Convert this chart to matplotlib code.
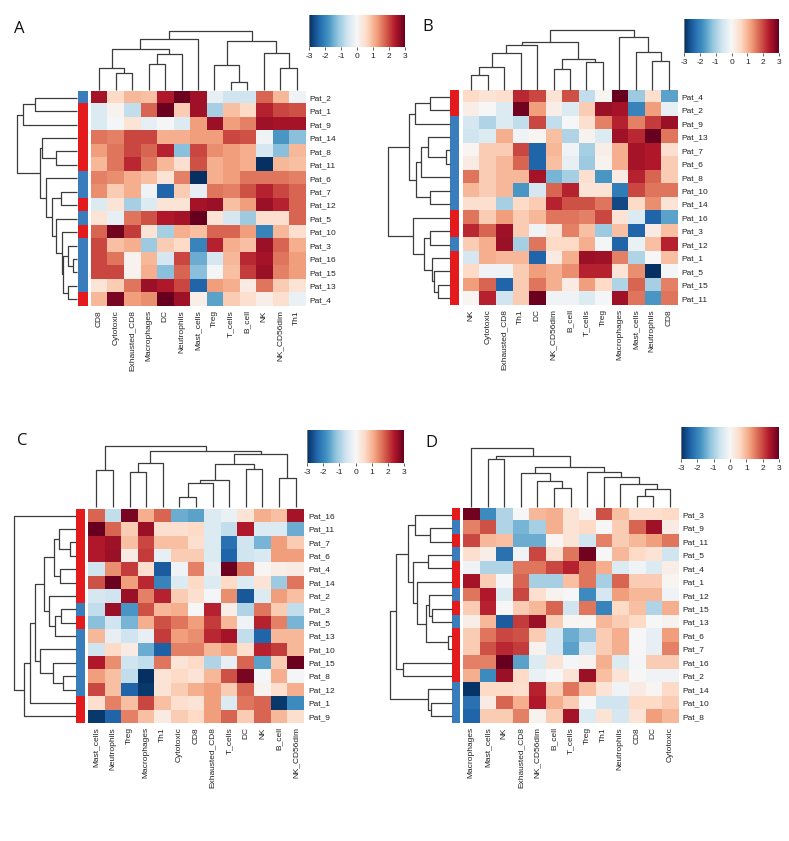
import numpy as np
import matplotlib
matplotlib.use('Agg')
import matplotlib.pyplot as plt
from matplotlib.colors import ListedColormap

plt.rcParams['font.family'] = ['Liberation Sans', 'DejaVu Sans']

# ---------------- data ----------------
cols_A = ["CD8", "Cytotoxic", "Exhausted_CD8", "Macrophages", "DC", "Neutrophils", "Mast_cells",
          "Treg", "T_cells", "B_cell", "NK", "NK_CD56dim", "Th1"]
rows_A = ["Pat_2", "Pat_1", "Pat_9", "Pat_14", "Pat_8", "Pat_11", "Pat_6", "Pat_7", "Pat_12",
          "Pat_5", "Pat_10", "Pat_3", "Pat_16", "Pat_15", "Pat_13", "Pat_4"]
groups_A = ["B", "R", "R", "R", "R", "R", "B", "B", "R", "B", "R", "B", "B", "B", "B", "R"]
vals_A = [
    [2.5, 0.6, 1.0, 0.9, 2.4, 2.95, 2.55, -0.25, -0.6, -0.6, 1.75, 1.0, -0.1],
    [-0.4, 0.1, -0.75, 1.75, 2.95, 0.75, 2.55, -1.0, 0.9, 0.6, 2.3, 2.0, 1.9],
    [-0.4, -0.05, 0.4, -0.25, -0.05, -0.4, 1.25, 2.6, 1.25, 1.5, 2.55, 2.5, 2.5],
    [1.6, 1.5, 2.0, 2.0, 1.1, 1.1, 1.25, 1.25, 2.0, 1.9, -0.1, -1.75, -1.25],
    [1.25, 1.6, 2.0, 1.75, 2.3, -1.25, 2.0, 1.4, 1.25, 1.1, -0.5, -1.25, 1.0],
    [1.0, 1.6, 2.25, 1.6, 1.0, 0.5, 1.9, 1.1, 1.25, 1.1, -3.0, 1.0, 0.9],
    [1.5, 1.4, 1.1, 0.9, 0.4, 1.5, -3.0, 1.1, 1.25, 1.6, 1.6, 1.6, 1.5],
    [1.4, 0.75, 1.1, -0.1, -2.4, 0.75, -0.25, 1.6, 1.5, 1.9, 2.3, 2.0, 1.75],
    [-0.4, 0.4, -1.0, -0.4, 0.4, 0.4, 2.5, 2.6, 0.9, 1.25, 2.6, 2.3, 1.75],
    [0.4, -0.25, 1.6, 1.9, 2.4, 2.5, 3.0, 0.4, -0.5, -1.1, 0.5, 0.5, 1.75],
    [1.75, 2.9, 2.1, 0.4, -1.0, 1.1, 0.9, 1.75, 1.75, 1.25, -2.0, 1.0, 0.5],
    [2.0, 0.9, 1.1, -1.1, 0.75, 0.6, -2.0, 2.3, 1.1, 0.9, 2.6, 1.75, 1.1],
    [2.0, 1.6, 0.1, 1.0, -0.5, 2.0, -1.5, -0.5, 1.0, 2.25, 2.5, 1.6, 1.25],
    [2.0, 2.0, 0.1, 1.1, -1.25, 1.75, -1.25, -0.05, 0.9, 2.1, 2.6, 1.5, 1.25],
    [0.4, 0.75, 1.6, 2.6, 2.4, 2.0, -2.4, 1.25, 1.1, 0.25, 1.6, 0.75, 0.4],
    [1.0, 2.85, 1.25, 1.4, 3.0, 2.55, 0.2, -1.6, 0.75, 0.5, 0.2, 0.5, -0.2],
]
col_tree_A = [(1, 2, 50), (0, 13, 65), (3, 4, 77), (15, 5, 107), (14, 16, 122), (17, 6, 153),
              (8, 9, 23), (7, 19, 75), (11, 12, 65), (10, 21, 110), (20, 22, 148), (18, 23, 178)]
row_tree_A = [(0, 1, 128), (16, 2, 167), (4, 5, 65), (3, 18, 107), (12, 13, 13), (11, 20, 30),
              (14, 15, 30), (21, 22, 45), (10, 23, 47), (9, 24, 65), (7, 8, 50), (26, 25, 77),
              (6, 27, 97), (19, 28, 115), (17, 29, 185)]

cols_B = ["NK", "Cytotoxic", "Exhausted_CD8", "Th1", "DC", "NK_CD56dim", "B_cell", "T_cells",
          "Treg", "Macrophages", "Mast_cells", "Neutrophils", "CD8"]
rows_B = ["Pat_4", "Pat_2", "Pat_9", "Pat_13", "Pat_7", "Pat_6", "Pat_8", "Pat_10", "Pat_14",
          "Pat_16", "Pat_3", "Pat_12", "Pat_1", "Pat_5", "Pat_15", "Pat_11"]
groups_B = ["R", "R", "B", "B", "B", "B", "B", "B", "B", "R", "R", "B", "R", "R", "R", "R"]
vals_B = [
    [0.6, 0.4, 0.5, 2.25, 2.0, 0.4, 1.9, -0.75, 0.05, 3.0, -1.1, 0.5, -1.6],
    [0.2, 0.0, -0.4, 2.9, 1.25, 0.2, -0.4, 0.75, 2.6, 2.5, -2.0, 1.25, -0.25],
    [-0.5, -0.9, -0.4, -0.75, 2.0, -0.75, 0.0, 0.5, 1.5, 2.3, 1.5, 2.1, 2.6],
    [-0.6, -0.4, 1.1, -0.1, 0.05, 0.9, -0.9, 0.1, -0.4, 2.55, 2.25, 3.0, 1.6],
    [0.05, 0.75, 0.75, 2.0, -2.4, 1.0, -0.1, -1.0, 0.2, 1.1, 2.5, 2.4, 0.5],
    [0.25, 0.75, 1.0, 1.75, -2.4, 0.9, -0.25, -1.1, 0.1, 1.1, 2.5, 2.4, 0.75],
    [1.6, 0.75, 1.0, 1.0, 2.5, -1.4, -1.0, 0.5, -1.75, 0.25, 2.3, 1.75, 0.75],
    [1.0, 0.75, 1.0, -1.75, -0.5, 1.75, 2.3, 0.4, 0.4, -2.1, 2.0, 1.6, 1.6],
    [0.5, 0.5, -1.0, 0.6, 0.75, 2.3, 1.9, 1.9, 1.6, -2.7, 0.6, 1.4, 0.4],
    [1.6, 0.75, 1.25, 0.75, 1.0, 1.6, 1.6, 1.5, 2.0, 0.4, -0.4, -2.4, -1.6],
    [2.25, 1.75, 2.55, 0.75, -0.1, 0.4, 1.5, 0.9, -1.1, 0.9, -2.4, 0.25, 0.9],
    [0.75, 1.1, 2.6, -1.0, 1.6, 0.6, 0.6, 1.1, -0.05, -2.4, -0.2, 0.9, 2.3],
    [-0.5, 1.1, 1.0, 1.0, -2.4, 0.25, 1.1, 2.6, 2.55, 1.5, -0.9, 0.0, 0.9],
    [0.6, -0.1, -0.1, 0.75, 1.25, 1.1, 1.4, 2.3, 2.3, 0.4, 1.4, -3.0, -0.05],
    [1.25, 1.75, -2.4, 0.75, 1.6, 1.1, 0.25, 1.25, 0.6, -0.9, 1.75, -1.0, 1.5],
    [0.05, 2.3, -0.6, 0.75, 2.95, -0.1, -0.1, -0.4, -0.05, 2.55, 1.6, -1.75, 1.6],
]
col_tree_B = [(0, 1, 45), (13, 2, 70), (14, 3, 110), (15, 4, 135), (5, 6, 63), (7, 8, 85),
              (17, 18, 93), (16, 19, 145), (11, 12, 87), (10, 21, 113), (9, 22, 158), (20, 23, 180)]
row_tree_B = [(0, 1, 59), (16, 2, 104), (4, 5, 9), (3, 18, 64), (19, 6, 84), (7, 8, 59),
              (20, 21, 99), (17, 22, 119), (14, 15, 34), (13, 24, 47), (12, 25, 52), (10, 11, 59),
              (27, 26, 77), (9, 28, 110), (23, 29, 182)]

cols_C = ["Mast_cells", "Neutrophils", "Treg", "Macrophages", "Th1", "Cytotoxic", "CD8",
          "Exhausted_CD8", "T_cells", "DC", "NK", "B_cell", "NK_CD56dim"]
rows_C = ["Pat_16", "Pat_11", "Pat_7", "Pat_6", "Pat_4", "Pat_14", "Pat_2", "Pat_3", "Pat_5",
          "Pat_13", "Pat_10", "Pat_15", "Pat_8", "Pat_12", "Pat_1", "Pat_9"]
groups_C = ["R", "R", "R", "R", "R", "R", "R", "B", "R", "B", "B", "B", "B", "B", "R", "R"]
vals_C = [
    [1.75, -0.75, 2.85, 1.1, 1.75, -1.5, -1.6, -0.4, -0.2, 0.4, 1.1, 0.9, 2.5],
    [3.0, 1.75, 0.75, 2.6, 0.5, 0.5, 0.6, -0.4, -0.75, 2.4, -0.4, -0.4, -1.5],
    [2.4, 2.55, 0.9, 2.0, 0.9, 0.9, 0.5, -0.4, -2.25, -0.6, -1.4, 1.25, 0.75],
    [2.4, 2.6, 0.25, 2.1, -0.25, 0.75, 0.75, -0.4, -2.4, -0.6, -0.45, 1.25, 1.25],
    [-0.6, 1.4, 2.1, 0.5, -2.5, -0.1, 1.5, -0.25, 2.95, 1.6, 0.05, 0.2, 0.25],
    [1.9, 2.95, 1.25, 2.25, -2.0, -0.4, 0.6, -0.4, 0.6, -0.4, 0.4, -1.1, 1.6],
    [-0.5, -0.6, 2.6, 1.5, 2.3, 0.75, 0.5, -0.05, 1.4, -2.55, -0.4, 1.25, 0.9],
    [-0.75, 2.6, -1.75, 1.9, 1.0, 1.1, 0.0, 2.3, 0.2, -0.9, 1.6, 0.75, -0.75],
    [-1.25, -0.6, -1.4, 1.1, 1.9, 1.6, 1.25, 2.1, 1.0, -0.1, 2.3, 1.5, -1.4],
    [1.0, -0.25, -0.6, -0.25, 2.1, 1.25, 1.4, 2.25, 2.5, -0.75, -2.4, 1.0, 1.0],
    [-0.6, 0.6, 0.25, -1.5, -2.45, 1.5, 1.5, 1.0, 1.25, 0.5, 2.3, 2.1, 1.0],
    [2.4, 1.4, -0.6, -0.75, 1.6, 0.4, 0.6, -0.9, -0.25, 1.75, -1.6, 0.75, 2.95],
    [1.25, 0.9, -0.75, -3.0, 0.4, 0.6, 0.4, 1.0, 1.9, 2.85, -0.05, 1.1, -0.05],
    [2.0, 0.9, -2.4, -2.9, 0.4, 0.75, 1.1, 1.25, 0.75, 1.75, 0.1, 0.5, 1.1],
    [0.5, 1.5, 0.9, 2.0, 0.9, 0.5, 0.4, 1.25, -0.4, 1.6, 1.75, -2.9, -1.9],
    [-2.9, -2.4, 1.5, 0.9, 0.25, 0.75, 0.6, 1.25, 1.75, 0.75, 1.75, 1.0, 0.5],
]
col_tree_C = [(0, 1, 110), (2, 3, 103), (14, 4, 130), (5, 6, 30), (16, 7, 72), (17, 8, 82),
              (9, 10, 112), (18, 19, 127), (11, 12, 88), (20, 21, 157), (15, 22, 168), (13, 23, 182)]
row_tree_C = [(2, 3, 15), (1, 16, 50), (4, 5, 45), (17, 18, 65), (7, 8, 42), (20, 9, 60),
              (6, 21, 78), (19, 22, 92), (12, 13, 37), (11, 24, 67), (10, 25, 105), (23, 26, 120),
              (27, 14, 135), (28, 15, 152), (0, 29, 182)]

cols_D = ["Macrophages", "Mast_cells", "NK", "Exhausted_CD8", "NK_CD56dim", "B_cell", "T_cells",
          "Treg", "Th1", "Neutrophils", "CD8", "DC", "Cytotoxic"]
rows_D = ["Pat_3", "Pat_9", "Pat_11", "Pat_5", "Pat_4", "Pat_1", "Pat_12", "Pat_15", "Pat_13",
          "Pat_6", "Pat_7", "Pat_16", "Pat_2", "Pat_14", "Pat_10", "Pat_8"]
groups_D = ["R", "B", "R", "B", "R", "R", "B", "R", "B", "R", "R", "R", "R", "B", "B", "B"]
vals_D = [
    [2.9, -1.9, -0.9, 0.0, 1.0, 1.1, 0.4, 0.05, 1.9, 0.9, 0.5, 0.5, 0.6],
    [1.5, 1.9, -0.9, -1.4, -1.0, 1.1, 0.4, 0.6, 0.0, 0.75, 1.75, 2.55, 0.25],
    [2.0, 1.0, 0.9, -1.5, -1.5, 0.05, 0.4, -0.6, 1.5, 0.75, 1.0, 1.25, 1.6],
    [0.5, 0.2, -2.25, -0.1, 2.0, 0.5, 1.6, 2.9, 0.0, 1.0, 0.6, 0.4, -0.6],
    [-0.1, -0.9, -0.9, 1.6, 1.6, 2.0, 2.3, 1.6, 1.1, -0.4, -0.1, -0.4, 0.2],
    [2.5, 0.75, -0.05, 1.75, -1.0, -1.0, 0.9, 1.6, -1.0, 1.75, 0.75, 0.75, 0.05],
    [1.6, 2.4, -0.4, 2.0, 0.5, 0.1, 0.0, -1.9, -0.5, 1.25, 1.0, 1.0, -0.1],
    [0.75, 2.3, 0.0, 0.75, 1.0, 1.75, -0.6, 1.6, -2.0, 0.6, 0.9, -0.9, 1.1],
    [0.2, 1.0, -2.5, 2.1, 2.6, 0.75, 0.05, 0.05, 1.0, 0.75, 0.6, 0.0, 0.1],
    [0.75, 1.6, 2.0, 1.9, 0.75, -0.5, -1.5, -1.1, 0.75, 1.1, 0.0, -0.25, 1.25],
    [0.75, 1.9, 2.25, 2.1, 0.1, -0.5, -1.6, -0.5, 0.75, 1.1, 0.0, -0.25, 1.5],
    [1.5, 1.5, 3.0, -1.6, -0.4, 0.4, -0.05, 0.1, 1.1, -0.4, -0.05, 0.75, 0.75],
    [1.1, -1.9, 2.6, 0.6, -0.2, 0.0, 0.4, 2.6, 0.9, 0.4, 0.0, -0.1, -0.1],
    [-2.95, 0.6, 0.6, 0.5, 2.3, 0.75, 1.6, 0.9, 0.4, -0.1, 0.25, 0.05, 0.6],
    [-2.25, 0.25, 1.75, 1.1, 2.4, 1.1, 0.75, 0.0, -0.6, -0.6, 0.6, 0.6, 0.75],
    [-2.4, 0.75, 0.75, 1.5, 0.1, 0.75, 2.5, -0.4, 0.4, -0.5, 0.4, 1.25, 1.0],
]
col_tree_D = [(1, 2, 143), (5, 6, 57), (4, 14, 78), (3, 15, 100), (10, 11, 33), (17, 12, 53),
              (9, 18, 70), (8, 19, 90), (7, 20, 105), (16, 21, 118), (13, 22, 153), (0, 23, 175)]
row_tree_D = [(1, 2, 62), (0, 16, 104), (3, 4, 69), (7, 8, 57), (6, 19, 64), (9, 10, 10),
              (20, 21, 72), (5, 22, 100), (18, 23, 112), (17, 24, 125), (11, 12, 140), (25, 26, 159),
              (14, 15, 59), (13, 28, 69), (27, 29, 177)]

panel_letters = ["A", "B", "C", "D"]
group_colors = {"R": "#e41a1c", "B": "#3a7dbd"}
cbar_ticks = [-3, -2, -1, 0, 1, 2, 3]

# ---------------- layout (pixels, top-left origin) ----------------
W, H = 789, 841
fig = plt.figure(figsize=(W / 100, H / 100), dpi=100)
fig.patch.set_facecolor("white")


def ax_px(x0, y0, x1, y1):
    return fig.add_axes([x0 / W, 1 - y1 / H, (x1 - x0) / W, (y1 - y0) / H])


DCOL = "#3c3c3c"


def draw_tree(ax, merges, n, orient):
    pos = list(range(n))
    hgt = [0.0] * n
    for a, b, h in merges:
        pa, pb = pos[a], pos[b]
        ha, hb = hgt[a], hgt[b]
        xs = [pa, pa, pb, pb]
        ys = [ha, h, h, hb]
        if orient == "top":
            ax.plot(xs, ys, color=DCOL, lw=0.9, clip_on=False, solid_capstyle="butt")
        else:
            ax.plot(ys, xs, color=DCOL, lw=0.9, clip_on=False, solid_capstyle="butt")
        pos.append((pa + pb) / 2)
        hgt.append(h)
    root = hgt[-1]
    if orient == "top":
        ax.set_xlim(-0.5, n - 0.5)
        ax.set_ylim(0, root)
    else:
        ax.set_ylim(n - 0.5, -0.5)
        ax.set_xlim(root, 0)
    ax.axis("off")


cmap = plt.get_cmap("RdBu_r")

panels = [
    dict(cols=cols_A, rows=rows_A, vals=vals_A, groups=groups_A, ct=col_tree_A, rt=row_tree_A,
         hm=(91, 91, 305, 306), bar=(78, 88), rd=16.7, cd=30.7, cdb=90,
         cb=(309, 15, 405, 47), lab=(19.5, 29)),
    dict(cols=cols_B, rows=rows_B, vals=vals_B, groups=groups_B, ct=col_tree_B, rt=row_tree_B,
         hm=(463, 90, 677, 305), bar=(450, 459), rd=388.3, cd=30, cdb=90,
         cb=(684, 19, 779, 53), lab=(428, 27)),
    dict(cols=cols_C, rows=rows_C, vals=vals_C, groups=groups_C, ct=col_tree_C, rt=row_tree_C,
         hm=(88, 509, 304, 723), bar=(76, 85), rd=14, cd=446, cdb=507,
         cb=(307, 430, 404, 463), lab=(22, 441)),
    dict(cols=cols_D, rows=rows_D, vals=vals_D, groups=groups_D, ct=col_tree_D, rt=row_tree_D,
         hm=(463, 508, 678, 723), bar=(452, 460), rd=390, cd=448.3, cdb=507,
         cb=(681, 427, 779, 459), lab=(431, 443)),
]

for letter, p in zip(panel_letters, panels):
    x0, y0, x1, y1 = p["hm"]
    data = np.array(p["vals"])
    nr, nc = data.shape

    # heatmap
    ax = ax_px(x0, y0, x1, y1)
    ax.imshow(data, cmap=cmap, vmin=-3, vmax=3, aspect="auto", interpolation="nearest")
    ax.set_xticks(range(nc))
    ax.set_xticklabels(p["cols"], rotation=90, fontsize=6, color="#222222")
    ax.set_yticks(range(nr))
    ax.set_yticklabels(p["rows"], fontsize=6, color="#222222")
    ax.yaxis.tick_right()
    ax.tick_params(length=0, pad=3)
    for s in ax.spines.values():
        s.set_visible(False)

    # row annotation bar
    bx0, bx1 = p["bar"]
    axb = ax_px(bx0, y0, bx1, y1)
    gcol = ListedColormap([group_colors["B"], group_colors["R"]])
    gvals = np.array([[1 if g == "R" else 0] for g in p["groups"]])
    axb.imshow(gvals, cmap=gcol, vmin=0, vmax=1, aspect="auto", interpolation="nearest")
    axb.axis("off")

    # row dendrogram
    axr = ax_px(p["rd"], y0, bx0 - 0.5, y1)
    draw_tree(axr, p["rt"], nr, "left")

    # column dendrogram
    axc = ax_px(x0, p["cd"], x1, p["cdb"])
    draw_tree(axc, p["ct"], nc, "top")

    # colorbar
    cx0, cy0, cx1, cy1 = p["cb"]
    axcb = ax_px(cx0, cy0, cx1, cy1)
    grad = np.linspace(-3, 3, 256)[None, :]
    axcb.imshow(grad, cmap=cmap, vmin=-3, vmax=3, aspect="auto",
                extent=(-3, 3, 0, 1))
    axcb.set_xlim(-3, 3)
    axcb.set_yticks([])
    axcb.set_xticks(cbar_ticks)
    axcb.set_xticklabels([str(t) for t in cbar_ticks], fontsize=6, color="#222222")
    axcb.tick_params(axis="x", length=2, width=0.6, pad=2, color="#444444")
    for s in axcb.spines.values():
        s.set_visible(False)
    axcb.spines["left"].set_visible(True)
    axcb.spines["left"].set_color("#888888")
    axcb.spines["left"].set_linewidth(0.6)

    # panel letter
    fig.text(p["lab"][0] / W, 1 - p["lab"][1] / H, letter, fontsize=12,
             family=["Open Sans", "DejaVu Sans"], ha="center", va="center", color="#111111")

fig.savefig("out.png", dpi=100, facecolor="white")
